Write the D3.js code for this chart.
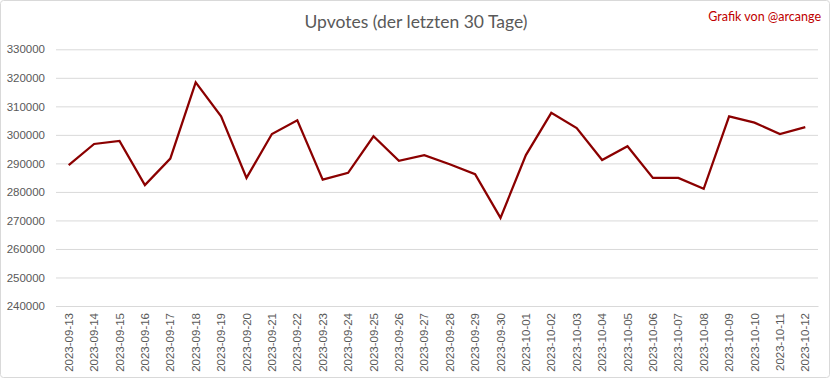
<!DOCTYPE html>
<html><head><meta charset="utf-8">
<script src="https://cdn.jsdelivr.net/npm/d3@7/dist/d3.min.js"></script>
<style>body{margin:0;background:#fff}svg{display:block}</style>
</head><body><svg id="c" width="832" height="379"></svg>
<script>
const dates = ["2023-09-13","2023-09-14","2023-09-15","2023-09-16","2023-09-17","2023-09-18","2023-09-19","2023-09-20","2023-09-21","2023-09-22","2023-09-23","2023-09-24","2023-09-25","2023-09-26","2023-09-27","2023-09-28","2023-09-29","2023-09-30","2023-10-01","2023-10-02","2023-10-03","2023-10-04","2023-10-05","2023-10-06","2023-10-07","2023-10-08","2023-10-09","2023-10-10","2023-10-11","2023-10-12"];
const upvotes = [289400,296800,297900,282400,291700,318400,306500,284900,300300,305100,284300,286700,299500,290900,292900,289700,286200,270900,292900,307700,302400,291200,296000,284900,284900,281100,306500,304300,300300,302700];
const yTicks = [240000,250000,260000,270000,280000,290000,300000,310000,320000,330000];
const title = "Upvotes (der letzten 30 Tage)";
const credit = "Grafik von @arcange";

const svg = d3.select("#c");
svg.append("rect").attr("x",0.5).attr("y",0.5).attr("width",829).attr("height",377)
  .attr("fill","#fff").attr("stroke","#d9d9d9").attr("rx",3);

const m = {l:56, r:818, t:49.3, b:306};
const x = d3.scaleBand().domain(dates).range([m.l, m.r]);
const y = d3.scaleLinear().domain([240000,330000]).range([m.b, m.t]);

const yAxis = svg.append("g").attr("transform",`translate(${m.l},0)`)
  .call(d3.axisLeft(y).tickValues(yTicks).tickSize(-(m.r-m.l)).tickPadding(11).tickFormat(d3.format("d")));
yAxis.select(".domain").remove();
yAxis.selectAll(".tick line").attr("stroke","#d9d9d9").attr("stroke-width",1);
yAxis.selectAll(".tick text").attr("fill","#595959").style("font","11.5px 'Liberation Sans', Arial, sans-serif");

const xAxis = svg.append("g").attr("transform",`translate(0,${m.b})`)
  .call(d3.axisBottom(x).tickSize(0).tickPadding(0));
xAxis.select(".domain").attr("stroke","#d9d9d9");
xAxis.selectAll(".tick text")
  .attr("fill","#595959").style("font","11.5px 'Liberation Sans', Arial, sans-serif")
  .attr("transform","rotate(-90)").attr("text-anchor","end").attr("dy","0.35em").attr("x",-7).attr("y",0);

const line = d3.line().x((d,i)=>x(dates[i])+x.bandwidth()/2).y(d=>y(d));
svg.append("path").datum(upvotes).attr("d",line).attr("fill","none")
  .attr("stroke","#8b0000").attr("stroke-width",2.25).attr("stroke-linejoin","miter");

svg.append("text").attr("x",416).attr("y",28).attr("text-anchor","middle")
  .attr("fill","#595959").style("font","400 17.5px Lato, 'Open Sans', sans-serif").text(title);
svg.append("text").attr("x",821).attr("y",21).attr("text-anchor","end")
  .attr("fill","#c00000").style("font","12.5px Lato, 'Open Sans', sans-serif").text(credit);
</script></body></html>
